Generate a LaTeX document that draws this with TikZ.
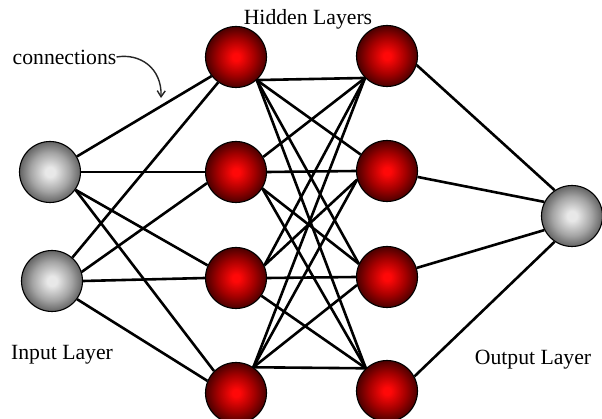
\documentclass[tikz,border=0pt]{standalone}
\usepackage{fontspec}
\setmainfont{Liberation Serif}
\usetikzlibrary{arrows.meta}
\pgfdeclarelayer{edges}
\pgfsetlayers{edges,main}
\definecolor{rcen}{RGB}{255,8,8}
\definecolor{rmid}{RGB}{165,0,0}
\definecolor{redge}{RGB}{75,0,0}
\definecolor{gcen}{RGB}{232,232,232}
\definecolor{gmid}{RGB}{165,165,165}
\definecolor{gedge}{RGB}{100,100,100}
\pgfdeclareradialshading{redball}{\pgfpoint{0bp}{0bp}}{color(0bp)=(rcen); color(3bp)=(rcen); color(15bp)=(rmid); color(25bp)=(redge); color(50bp)=(redge)}
\pgfdeclareradialshading{grayball}{\pgfpoint{0bp}{0bp}}{color(0bp)=(gcen); color(4bp)=(gcen); color(16bp)=(gmid); color(25bp)=(gedge); color(50bp)=(gedge)}
\tikzset{
  neuron/.style={circle, draw=black, line width=1.1pt, minimum size=61pt, inner sep=0pt},
  hid/.style={neuron, shading=redball},
  io/.style={neuron, shading=grayball},
  conn/.style={line width=2.6pt, black},
  lbl/.style={font=\fontsize{21.7}{26}\selectfont, inner sep=0pt, text=black},
  pointer/.style={line width=1.4pt, black!85, -{Straight Barb[length=6pt,width=8pt]}}
}
\begin{document}
\begin{tikzpicture}[x=1pt,y=-1pt]
\useasboundingbox (0,0) rectangle (602,419);
\clip (0,0) rectangle (602,419);
% nodes
\node[io]  (i1) at (50,172) {};
\node[io]  (i2) at (52,281) {};
\node[hid] (a1) at (236,57) {};
\node[hid] (a2) at (236,172) {};
\node[hid] (a3) at (236,278) {};
\node[hid] (a4) at (236,393) {};
\node[hid] (b1) at (387,56) {};
\node[hid] (b2) at (387,171) {};
\node[hid] (b3) at (387,277) {};
\node[hid] (b4) at (387,391) {};
\node[io]  (o)  at (572,216) {};
% labels
\node[lbl] (hl) at (308,19) {Hidden Layers};
\node[lbl] (cl) at (64.5,57) {connections};
\node[lbl] (il) at (62,355) {Input Layer};
\node[lbl] (ol) at (533,360) {Output Layer};
\coordinate (tip) at (161,98);
\draw[pointer] (cl.east) .. controls (140,53) and (162,68) .. (tip);
% connections
\begin{pgfonlayer}{edges}
\fill[white] (0,0) rectangle (602,419);
\draw[conn] (i1.30) -- (a1.-142);
\draw[conn] (i1.0) -- (a2.180);
\draw[conn] (i1.-35) -- (a3.156);
\draw[conn] (i1.-35) -- (a4.135);
\draw[conn] (i2.49) -- (a1.-125);
\draw[conn] (i2.17) -- (a2.-159);
\draw[conn] (i2.0) -- (a3.180);
\draw[conn] (i2.-36) -- (a4.157);
\draw[conn] (a1.-48) -- (b1.-135);
\draw[conn] (a1.-48) -- (b2.148);
\draw[conn] (a1.-48) -- (b3.155);
\draw[conn] (a1.-48) -- (b4.133);
\draw[conn] (a2.29) -- (b1.-135);
\draw[conn] (a2.0) -- (b2.180);
\draw[conn] (a2.-32) -- (b3.155);
\draw[conn] (a2.-32) -- (b4.133);
\draw[conn] (a3.24) -- (b1.-135);
\draw[conn] (a3.24) -- (b2.-164);
\draw[conn] (a3.0) -- (b3.180);
\draw[conn] (a3.-35) -- (b4.133);
\draw[conn] (a4.56) -- (b1.-135);
\draw[conn] (a4.56) -- (b2.-164);
\draw[conn] (a4.56) -- (b3.-165);
\draw[conn] (a4.56) -- (b4.133);
\draw[conn] (b1.-17) -- (o.124);
\draw[conn] (b2.-11) -- (o.153);
\draw[conn] (b3.17) -- (o.-153);
\draw[conn] (b4.28) -- (o.-124);
\end{pgfonlayer}
\end{tikzpicture}
\end{document}
